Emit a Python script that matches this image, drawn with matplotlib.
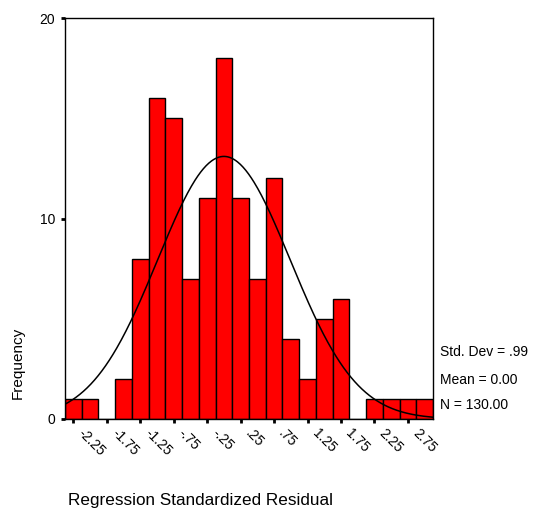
import numpy as np
import matplotlib
matplotlib.use("Agg")
import matplotlib.pyplot as plt

plt.rcParams['font.family'] = ['Liberation Sans', 'DejaVu Sans']

# Histogram data (bin centers, width 0.25)
bin_centers = [-2.25, -2.00, -1.75, -1.50, -1.25, -1.00, -0.75, -0.50, -0.25, 0.00,
               0.25, 0.50, 0.75, 1.00, 1.25, 1.50, 1.75, 2.00, 2.25, 2.50, 2.75, 3.00]
counts = [1, 1, 0, 2, 8, 16, 15, 7, 11, 18, 11, 7, 12, 4, 2, 5, 6, 0, 1, 1, 1, 1]
bin_width = 0.25
tick_values = [-2.25, -1.75, -1.25, -0.75, -0.25, 0.25, 0.75, 1.25, 1.75, 2.25, 2.75]
tick_labels = ["-2.25", "-1.75", "-1.25", "-.75", "-.25", ".25", ".75", "1.25", "1.75", "2.25", "2.75"]
std_dev = 0.99
mean = 0.00
n = 130

fig = plt.figure(figsize=(5.39, 5.13), dpi=100)
ax = fig.add_axes([65/539, 1-419/513, (433-65)/539, (419-18)/513])

ax.bar(bin_centers, counts, width=bin_width, color='#ff0000', edgecolor='black', linewidth=1.0)

xmin = bin_centers[0] - bin_width/2
xmax = bin_centers[-1] + bin_width/2
xs = np.linspace(xmin, xmax, 400)
ys = n * bin_width / (std_dev * np.sqrt(2*np.pi)) * np.exp(-0.5*((xs-mean)/std_dev)**2)
ax.plot(xs, ys, color='black', linewidth=1.1)

ax.set_xlim(xmin, xmax)
ax.set_ylim(0, 20)
ax.set_yticks([0, 10, 20])
ax.set_yticklabels(["0", "10", "20"], fontsize=10)
ax.set_xticks(tick_values)
ax.set_xticklabels([])
xtrans = ax.get_xaxis_transform()
for v, t in zip(tick_values, tick_labels):
    ax.annotate(t, xy=(v, 0), xycoords=xtrans, xytext=(5, -8.5), textcoords='offset points',
                rotation=-45, rotation_mode='anchor', ha='left', va='center',
                fontsize=10, annotation_clip=False)
ax.tick_params(axis='both', direction='out', length=3, width=2, pad=5)
ax.tick_params(axis='y', pad=4)
for s in ax.spines.values():
    s.set_linewidth(1.0)

ax.set_ylabel("Frequency", fontsize=11)
ax.yaxis.set_label_coords(-0.109, 0.14)
fig.text(68/539, 1-501/513, "Regression Standardized Residual", fontsize=12.3, ha='left', va='center')

fig.text(440/539, 1-352/513, "Std. Dev = .99", fontsize=10, ha='left', va='center')
fig.text(440/539, 1-380/513, "Mean = 0.00", fontsize=10, ha='left', va='center')
fig.text(440/539, 1-405/513, "N = 130.00", fontsize=10, ha='left', va='center')

fig.savefig("out.png", dpi=100)
